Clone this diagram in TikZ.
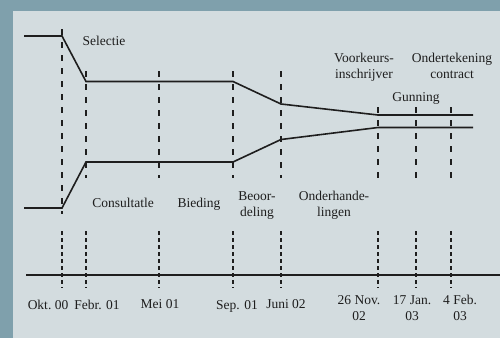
\documentclass[tikz,border=0pt]{standalone}
\usepackage{fontspec}
\setmainfont{Liberation Serif}
\definecolor{outerbg}{HTML}{7FA0AC}
\definecolor{innerbg}{HTML}{D3DCDF}
\definecolor{ink}{HTML}{1E1E1E}
\begin{document}
\begin{tikzpicture}[x=1pt,y=-1pt,
  mainline/.style={draw=ink,line width=1.6pt,line join=miter},
  axisline/.style={draw=ink,line width=1.4pt},
  updash/.style={draw=ink,line width=1.3pt,dash pattern=on 6pt off 7pt},
  lowdash/.style={draw=ink,line width=1.3pt,dash pattern=on 3.5pt off 3.5pt},
  lbl/.style={inner sep=0pt,anchor=base,align=center,text=ink,font=\fontsize{13.5}{15.5}\selectfont}]
\useasboundingbox (0,0) rectangle (500,338);
\fill[outerbg] (0,0) rectangle (500,338);
\fill[innerbg] (13,11) rectangle (500,338);
% upper dashed markers
\draw[updash] (62,29) -- (62,214);
\foreach \x in {86,159,233,281} \draw[updash] (\x,71) -- (\x,178);
\foreach \x in {378,416,451} \draw[updash] (\x,107) -- (\x,178);
% lower dashed markers
\foreach \x in {62,86,159,233,281,378,416,451} \draw[lowdash] (\x,231) -- (\x,288);
% timeline
\coordinate (ts) at (26,275);
\coordinate (te) at (500,275);
\draw[axisline] (ts) -- (te);
% funnel lines
\draw[mainline] (24,36) -- (62,36) -- (86,81.5) -- (233,81.5) -- (281,104) -- (378,115) -- (473,115);
\draw[mainline] (24,208) -- (62,208) -- (86,162) -- (233,162) -- (281,139.5) -- (378,127.5) -- (473,127.5);
% phase labels (base anchor = baseline of last line)
\node[lbl] (sel) at (104,45) {Selectie};
\node[lbl] (vk) at (364,78) {Voorkeurs-\\inschrijver};
\node[lbl] (ot) at (452,78) {Ondertekening\\contract};
\node[lbl] (gun) at (416,101) {Gunning};
\node[lbl] (con) at (123,207) {Consultatle};
\node[lbl] (bie) at (199,207) {Bieding};
\node[lbl] (beo) at (257,216) {Beoor-\\deling};
\node[lbl] (ond) at (334,216) {Onderhande-\\lingen};
% dates
\node[lbl] (d1) at (48,309) {Okt.\ 00};
\node[lbl] (d2) at (97,309) {Febr. 01};
\node[lbl] (d3) at (160,308) {Mei 01};
\node[lbl] (d4) at (237,309) {Sep. 01};
\node[lbl] (d5) at (286,308) {Juni 02};
\node[lbl] (d6) at (359,320) {26 Nov.\\02};
\node[lbl] (d7) at (412,320) {17 Jan.\\03};
\node[lbl] (d8) at (460,320) {4 Feb.\\03};
\end{tikzpicture}
\end{document}
